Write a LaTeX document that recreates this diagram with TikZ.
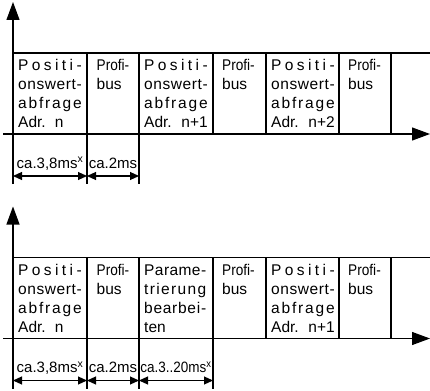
\documentclass[tikz,border=0pt]{standalone}
\usepackage{fontspec}
\usepackage{graphicx}
\setmainfont{Liberation Sans}
\usetikzlibrary{arrows.meta}

% a line of cell text spread over the full cell width
\newcommand\spr[1]{\makebox[63.5pt][s]{#1}}
\newcommand\sprn[1]{\makebox[62pt][s]{#1}}

\tikzset{
  ln/.style={line width=1.1pt, draw=black},
  cell/.style={minimum height=81pt, inner sep=0pt, outer sep=0pt, anchor=north west},
  % anchored at the baseline of the last line of the cell text
  celltext/.style={font=\fontsize{15.5}{19}\selectfont, align=left, inner sep=0pt, anchor=base west},
  lab/.style={font=\fontsize{15}{18}\selectfont, inner sep=0pt, anchor=base},
  axisarrow/.style={ln, -{Triangle[length=18pt,width=13pt]}},
  dimarrow/.style={ln, {Triangle[length=9pt,width=8pt]}-{Triangle[length=9pt,width=8pt]}},
}

\begin{document}
\begin{tikzpicture}[x=1pt, y=-1pt]
\useasboundingbox (0,0) rectangle (430,390);

% ---------------- upper time line ----------------
\begin{scope}
  \node[cell, minimum width=74pt] (tA) at (13,53) {};
  \node[cell, minimum width=52pt] (tB) at (tA.north east) {};
  \node[cell, minimum width=74pt] (tC) at (tB.north east) {};
  \node[cell, minimum width=53pt] (tD) at (tC.north east) {};
  \node[cell, minimum width=73pt] (tE) at (tD.north east) {};
  \node[cell, minimum width=52pt] (tF) at (tE.north east) {};
  \node[cell, minimum width=39pt] (tG) at (tF.north east) {};
  \coordinate (tTip) at (13,2);
  \coordinate (tLow) at (13,184);
  \coordinate (tAxS) at (3,134);
  \coordinate (tDim) at (0,176);

  \draw[ln] (tA.north west) -- (tG.north east);
  \draw[axisarrow] (tAxS) -- (tG.south east);
  \draw[axisarrow] (tLow) -- (tTip);
  \foreach \c in {tA,tB} \draw[ln] (\c.north east) -- (\c.north east |- tLow);
  \foreach \c in {tC,tD,tE,tF} \draw[ln] (\c.north east) -- (\c.south east);

  \node[celltext] (tAt) at ([xshift=5pt,yshift=-75pt]tA.north west)
    {\spr{P\hfil o\hfil s\hfil i\hfil t\hfil i\hfil -}\\
     \spr{o\hfil n\hfil s\hfil w\hfil e\hfil r\hfil t\hfil -}\\
     \spr{a\hfil b\hfil f\hfil r\hfil a\hfil g\hfil e}\\
     Adr.\hspace{9pt}n};
  \node[celltext] (tBt) at ([xshift=9.5pt,yshift=-37pt]tB.north west)
    {\scalebox{0.88}[1]{Profi-}\\bus};
  \node[celltext] (tCt) at ([xshift=5pt,yshift=-75pt]tC.north west)
    {\spr{P\hfil o\hfil s\hfil i\hfil t\hfil i\hfil -}\\
     \spr{o\hfil n\hfil s\hfil w\hfil e\hfil r\hfil t\hfil -}\\
     \spr{a\hfil b\hfil f\hfil r\hfil a\hfil g\hfil e}\\
     \spr{Adr.\hfill n+1}};
  \node[celltext] (tDt) at ([xshift=9pt,yshift=-37pt]tD.north west)
    {\scalebox{0.88}[1]{Profi-}\\bus};
  \node[celltext] (tEt) at ([xshift=5pt,yshift=-75pt]tE.north west)
    {\spr{P\hfil o\hfil s\hfil i\hfil t\hfil i\hfil -}\\
     \spr{o\hfil n\hfil s\hfil w\hfil e\hfil r\hfil t\hfil -}\\
     \spr{a\hfil b\hfil f\hfil r\hfil a\hfil g\hfil e}\\
     \spr{Adr.\hfill n+2}};
  \node[celltext] (tFt) at ([xshift=9pt,yshift=-37pt]tF.north west)
    {\scalebox{0.88}[1]{Profi-}\\bus};

  \draw[dimarrow] (tA.west |- tDim) -- (tA.east |- tDim);
  \draw[dimarrow] (tB.west |- tDim) -- (tB.east |- tDim);
  \node[lab] (tAl) at ([yshift=-34pt]tA.south) {ca.3,8ms\textsuperscript{x}};
  \node[lab] (tBl) at ([yshift=-34pt]tB.south) {ca.2ms};
\end{scope}

% ---------------- lower time line ----------------
\begin{scope}[yshift=-204.5pt]
  \node[cell, minimum width=74pt] (bA) at (13,53) {};
  \node[cell, minimum width=52pt] (bB) at (bA.north east) {};
  \node[cell, minimum width=74pt] (bC) at (bB.north east) {};
  \node[cell, minimum width=53pt] (bD) at (bC.north east) {};
  \node[cell, minimum width=73pt] (bE) at (bD.north east) {};
  \node[cell, minimum width=52pt] (bF) at (bE.north east) {};
  \node[cell, minimum width=39pt] (bG) at (bF.north east) {};
  \coordinate (bTip) at (13,2);
  \coordinate (bLow) at (13,184);
  \coordinate (bAxS) at (3,134);
  \coordinate (bDim) at (0,176);

  \draw[ln] (bA.north west) -- (bG.north east);
  \draw[axisarrow] (bAxS) -- (bG.south east);
  \draw[axisarrow] (bLow) -- (bTip);
  \foreach \c in {bA,bB,bC} \draw[ln] (\c.north east) -- (\c.north east |- bLow);
  \foreach \c in {bD,bE,bF} \draw[ln] (\c.north east) -- (\c.south east);

  \node[celltext] (bAt) at ([xshift=5pt,yshift=-75pt]bA.north west)
    {\spr{P\hfil o\hfil s\hfil i\hfil t\hfil i\hfil -}\\
     \spr{o\hfil n\hfil s\hfil w\hfil e\hfil r\hfil t\hfil -}\\
     \spr{a\hfil b\hfil f\hfil r\hfil a\hfil g\hfil e}\\
     Adr.\hspace{9pt}n};
  \node[celltext] (bBt) at ([xshift=9.5pt,yshift=-37pt]bB.north west)
    {\scalebox{0.88}[1]{Profi-}\\bus};
  \node[celltext] (bCt) at ([xshift=5pt,yshift=-75pt]bC.north west)
    {\sprn{P\hfil a\hfil r\hfil a\hfil m\hfil e\hfil -}\\
     \sprn{t\hfil r\hfil i\hfil e\hfil r\hfil u\hfil n\hfil g}\\
     \sprn{b\hfil e\hfil a\hfil r\hfil b\hfil e\hfil i\hfil -}\\
     ten};
  \node[celltext] (bDt) at ([xshift=9pt,yshift=-37pt]bD.north west)
    {\scalebox{0.88}[1]{Profi-}\\bus};
  \node[celltext] (bEt) at ([xshift=5pt,yshift=-75pt]bE.north west)
    {\spr{P\hfil o\hfil s\hfil i\hfil t\hfil i\hfil -}\\
     \spr{o\hfil n\hfil s\hfil w\hfil e\hfil r\hfil t\hfil -}\\
     \spr{a\hfil b\hfil f\hfil r\hfil a\hfil g\hfil e}\\
     \spr{Adr.\hfill n+1}};
  \node[celltext] (bFt) at ([xshift=9pt,yshift=-37pt]bF.north west)
    {\scalebox{0.88}[1]{Profi-}\\bus};

  \draw[dimarrow] (bA.west |- bDim) -- (bA.east |- bDim);
  \draw[dimarrow] (bB.west |- bDim) -- (bB.east |- bDim);
  \draw[dimarrow] (bC.west |- bDim) -- (bC.east |- bDim);
  \node[lab] (bAl) at ([yshift=-34pt]bA.south) {ca.3,8ms\textsuperscript{x}};
  \node[lab] (bBl) at ([yshift=-34pt]bB.south) {ca.2ms};
  \node[lab] (bCl) at ([yshift=-34pt]bC.south) {\scalebox{0.9}[1]{ca.3..20ms\textsuperscript{x}}};
\end{scope}
\end{tikzpicture}
\end{document}
